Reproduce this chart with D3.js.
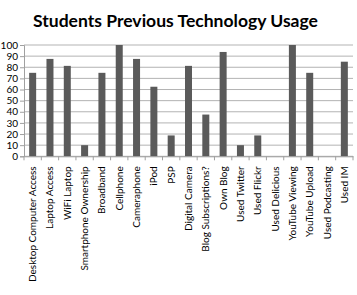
<!DOCTYPE html>
<html><head><meta charset="utf-8">
<script src="https://cdn.jsdelivr.net/npm/d3@7"></script>
<style>body{margin:0;background:#fff;}svg{display:block;font-family:Lato,sans-serif;}</style>
</head><body>
<script>
const categories = ["Desktop Computer Access","Laptop Access","WiFi Laptop","Smartphone Ownership","Broadband","Cellphone","Cameraphone","iPod","PSP","Digital Camera","Blog Subscriptions?","Own Blog","Used Twitter","Used Flickr","Used Delicious","YouTube Viewing","YouTube Upload","Used Podcasting","Used IM"];
const values = [75,87.5,81.25,10,75,100,87.5,62.5,18.75,81.25,37.5,93.75,10,18.75,0,100,75,0,85];
const yTicks = [0,10,20,30,40,50,60,70,80,90,100];
const title = "Students Previous Technology Usage";

const W=357,H=295;
const m={left:24,right:4,top:45,bottom:138.7};
const svg=d3.select("body").append("svg").attr("width",W).attr("height",H);
const xb=d3.scaleBand().domain(categories).range([m.left,W-m.right]);
const y=d3.scaleLinear().domain([0,100]).range([H-m.bottom,m.top]);

svg.append("text").attr("x",33).attr("y",27).attr("text-anchor","start")
  .attr("font-size",17).attr("font-weight","bold").attr("fill","#000")
  .attr("textLength",285).attr("lengthAdjust","spacingAndGlyphs").text(title);

// grid
svg.append("g").selectAll("line").data(yTicks).join("line")
  .attr("x1",m.left).attr("x2",W-m.right).attr("y1",d=>y(d)).attr("y2",d=>y(d))
  .attr("stroke","#b3b3b3").attr("stroke-width",1);

// y axis
const ya=svg.append("g").attr("transform",`translate(${m.left},0)`)
  .call(d3.axisLeft(y).tickValues(yTicks).tickSize(4).tickPadding(2));
ya.select(".domain").attr("stroke","#a0a0a0");
ya.selectAll(".tick line").attr("stroke","#a0a0a0");
ya.selectAll("text").attr("font-size",10).attr("fill","#000").attr("font-family","Lato");

// bars
svg.append("g").selectAll("rect").data(values).join("rect")
  .attr("x",(d,i)=>xb(categories[i])+xb.bandwidth()/2-3.5).attr("width",7)
  .attr("y",d=>y(d)).attr("height",d=>y(0)-y(d))
  .attr("fill","#5a5a5a");

// x axis
const xa=svg.append("g").attr("transform",`translate(0,${y(0)})`)
  .call(d3.axisBottom(xb).tickSize(0));
xa.select(".domain").attr("stroke","#a0a0a0");
svg.append("g").selectAll("line").data(d3.range(categories.length+1)).join("line")
  .attr("x1",i=>m.left+i*xb.step()).attr("x2",i=>m.left+i*xb.step())
  .attr("y1",y(0)).attr("y2",y(0)+4).attr("stroke","#a0a0a0");
xa.selectAll("text").attr("font-size",10).attr("fill","#000").attr("font-family","Lato")
  .attr("transform","rotate(-90)").attr("text-anchor","end")
  .attr("x",-10).attr("y",0).attr("dy","0.35em");
</script>
</body></html>
